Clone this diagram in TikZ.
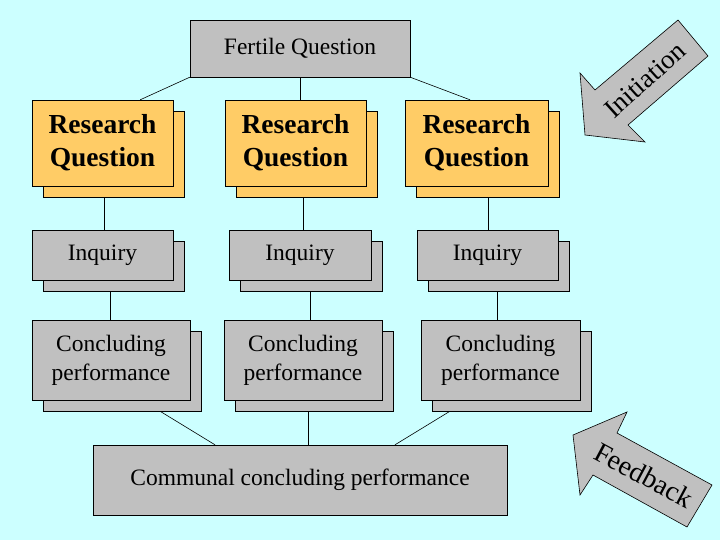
\documentclass[tikz,border=0pt]{standalone}
\usepackage{fontspec}
\setmainfont{Liberation Serif}
\usetikzlibrary{shadows,backgrounds}
\definecolor{bgc}{HTML}{CCFFFF}
\definecolor{boxg}{HTML}{C0C0C0}
\definecolor{boxo}{HTML}{FFCC66}
\tikzset{
  plainbox/.style={draw=black,fill=boxg,inner sep=0pt,align=center,font=\fontsize{23.5}{29}\selectfont},
  gbox/.style={plainbox,copy shadow={shadow xshift=11pt,shadow yshift=-11pt}},
  obox/.style={gbox,fill=boxo,font=\fontsize{27.5}{33}\selectfont\bfseries},
  conn/.style={draw=black,line width=0.6pt},
  bigarrow/.style={draw=black,fill=boxg,line width=0.6pt}
}
\begin{document}
\begin{tikzpicture}[x=1pt,y=-1pt]
\begin{pgfonlayer}{background}
\fill[bgc] (0,0) rectangle (720,540);
\end{pgfonlayer}
\useasboundingbox (0,0) rectangle (720,540);
% nodes
\node[plainbox,minimum width=220pt,minimum height=57pt] (fq) at (300,48.5) {Fertile Question};
\node[obox,minimum width=141pt,minimum height=86pt] (rq1) at (102.5,143) {Research\\Question};
\node[obox,minimum width=141pt,minimum height=86pt] (rq2) at (295.5,143) {Research\\Question};
\node[obox,minimum width=143pt,minimum height=86pt] (rq3) at (476.5,143) {Research\\Question};
\node[gbox,minimum width=141pt,minimum height=50pt] (iq1) at (102.5,255) {Inquiry};
\node[gbox,minimum width=142pt,minimum height=50pt] (iq2) at (300,255) {Inquiry};
\node[gbox,minimum width=141pt,minimum height=50pt] (iq3) at (487.5,255) {Inquiry};
\node[gbox,minimum width=158pt,minimum height=80pt] (cp1) at (111,360) {Concluding\\performance};
\node[gbox,minimum width=158pt,minimum height=80pt] (cp2) at (303,360) {Concluding\\performance};
\node[gbox,minimum width=159pt,minimum height=80pt] (cp3) at (500.5,360) {Concluding\\performance};
\node[plainbox,minimum width=414pt,minimum height=70pt] (cc) at (300,480) {Communal concluding performance};
% connectors
\begin{pgfonlayer}{background}
\draw[conn] (fq.south west) -- ([xshift=-33pt]rq1.north east);
\draw[conn] (fq.south) -- ([xshift=4.5pt]rq2.north);
\draw[conn] (fq.south east) -- ([xshift=-6.5pt]rq3.north);
\draw[conn] ([xshift=1.5pt,yshift=-11pt]rq1.south) -- ([xshift=1.5pt]iq1.north);
\draw[conn] ([xshift=7.5pt,yshift=-11pt]rq2.south) -- ([xshift=3pt]iq2.north);
\draw[conn] ([xshift=11.5pt,yshift=-11pt]rq3.south) -- ([xshift=0.5pt]iq3.north);
\draw[conn] ([xshift=7.5pt,yshift=-11pt]iq1.south) -- ([xshift=-1pt]cp1.north);
\draw[conn] ([xshift=10pt,yshift=-11pt]iq2.south) -- ([xshift=7pt]cp2.north);
\draw[conn] ([xshift=9.5pt,yshift=-11pt]iq3.south) -- ([xshift=-3.5pt]cp3.north);
\draw[conn] ([xshift=49pt,yshift=-11pt]cp1.south) -- ([xshift=-85pt]cc.north);
\draw[conn] ([xshift=5pt,yshift=-11pt]cp2.south) -- ([xshift=8pt]cc.north);
\draw[conn] ([xshift=-50.5pt,yshift=-11pt]cp3.south) -- ([xshift=95pt]cc.north);
\end{pgfonlayer}
% big arrows
\draw[bigarrow] (678,20) -- (708,56) -- (628,125) -- (645,142) -- (585,135) -- (580,73) -- (595,90) -- cycle;
\node[rotate=42,font=\fontsize{27}{30}\selectfont] (ini) at (645,80) {Initiation};
\draw[bigarrow] (712,485) -- (617,433) -- (627,412) -- (573,435) -- (580,495) -- (593,475) -- (687,527) -- cycle;
\node[rotate=-28,font=\fontsize{28}{30}\selectfont] (fb) at (644,475) {Feedback};
\end{tikzpicture}
\end{document}
